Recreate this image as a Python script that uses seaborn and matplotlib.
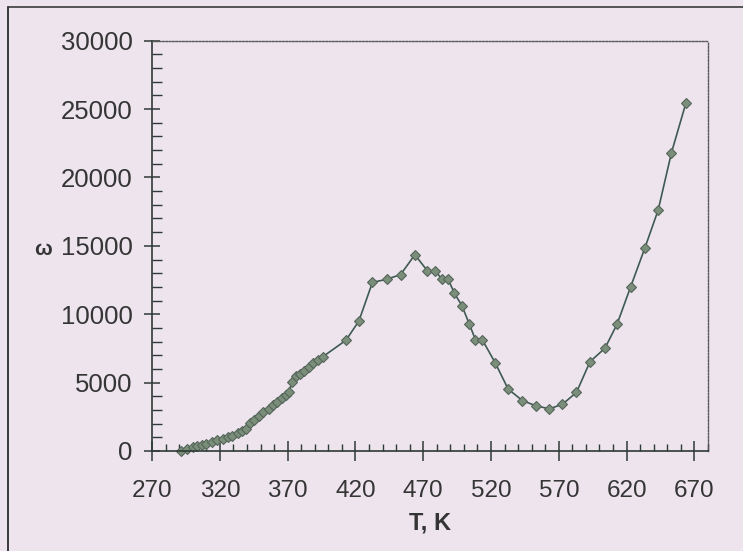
import matplotlib
matplotlib.use("Agg")
import matplotlib.pyplot as plt
from matplotlib.lines import Line2D
from matplotlib.ticker import MultipleLocator
import seaborn as sns
import pandas as pd

# Data
temperature_K = [291, 296, 300, 303, 307, 310, 314, 318, 322, 326, 329, 333, 336,
                 339, 342, 345, 349, 352, 356, 359, 362, 366, 369, 371, 373, 376,
                 379, 382, 386, 389, 392, 396,
                 413, 422.5, 432.5, 443, 453.3, 463.8, 473, 479, 483.5, 488.4,
                 493, 498.5, 504, 508.5, 513.5, 523, 532.6, 543.2, 553, 563,
                 572.7, 583, 593, 604, 613, 623, 633.4, 643.3, 653.1, 663.7]
omega = [0, 150, 260, 340, 420, 520, 660, 770, 870, 990, 1120, 1300, 1460,
         1640, 2050, 2280, 2550, 2820, 3100, 3350, 3600, 3880, 4100, 4300, 5050, 5450,
         5650, 5820, 6150, 6420, 6650, 6900,
         8100, 9500, 12330, 12550, 12900, 14350, 13180, 13150, 12600, 12550,
         11530, 10630, 9270, 8140, 8140, 6460, 4530, 3680, 3310, 3080,
         3420, 4280, 6530, 7510, 9280, 12010, 14820, 17620, 21810, 25420]
x_ticks = [270, 320, 370, 420, 470, 520, 570, 620, 670]
y_ticks = [0, 5000, 10000, 15000, 20000, 25000, 30000]
x_label = "T, K"
y_label = "ω"

df = pd.DataFrame({"T": temperature_K, "w": omega})

sns.set_theme(style="ticks")
plt.rcParams["font.family"] = ["Liberation Sans", "DejaVu Sans"]

bg = "#ede4ee"
txt = "#353535"
fig = plt.figure(figsize=(7.43, 5.51), dpi=100, facecolor=bg)
ax = fig.add_axes([0.2048, 0.1815, 0.748, 0.7447])
ax.set_facecolor(bg)

sns.lineplot(data=df, x="T", y="w", ax=ax, sort=False, color="#3f5a52",
             linewidth=1.2, marker="D", markersize=5.5,
             markerfacecolor="#7a8e7a", markeredgecolor="#55655a",
             markeredgewidth=0.8, clip_on=False)

ax.set_xlim(270, 680)
ax.set_ylim(0, 30000)
ax.set_xticks(x_ticks)
ax.set_yticks(y_ticks)
ax.xaxis.set_minor_locator(MultipleLocator(10))
ax.yaxis.set_minor_locator(MultipleLocator(1000))

for s in ["left", "bottom"]:
    ax.spines[s].set_color("#2f3a36")
    ax.spines[s].set_linewidth(1.2)
for s in ["top", "right"]:
    ax.spines[s].set_visible(True)
    ax.spines[s].set_color("#555555")
    ax.spines[s].set_linewidth(1.0)
    ax.spines[s].set_linestyle((0, (1.2, 1.2)))

ax.tick_params(axis="y", which="major", direction="inout", length=12, width=1.1,
               color="#2f3a36", labelsize=18.5, labelcolor=txt, pad=8)
ax.tick_params(axis="y", which="minor", direction="in", length=7, width=1.0,
               color="#2f3a36")
ax.tick_params(axis="x", which="major", direction="inout", length=14, width=1.1,
               color="#2f3a36", labelsize=17.5, labelcolor=txt, pad=14)
ax.tick_params(axis="x", which="minor", direction="in", length=5, width=1.0,
               color="#2f3a36")

ax.set_xlabel(x_label, fontsize=17, fontweight="bold", color=txt)
ax.xaxis.set_label_coords(0.5, -0.175)
ax.xaxis.label.set_va("center")
ax.set_ylabel(y_label, fontsize=15, fontweight="bold", color=txt, rotation=0)
ax.yaxis.set_label_coords(-0.196, 0.49)
ax.yaxis.label.set_va("center")
ax.yaxis.label.set_ha("center")

# scan frame lines (left and top)
fig.add_artist(Line2D([8 / 743, 8 / 743], [0, 1 - 7 / 551], transform=fig.transFigure,
                      color="#3a3a3a", linewidth=1.4))
fig.add_artist(Line2D([8 / 743, 1], [1 - 7 / 551, 1 - 7 / 551], transform=fig.transFigure,
                      color="#3a3a3a", linewidth=1.2))

fig.savefig("out.png", dpi=100, facecolor=bg)
